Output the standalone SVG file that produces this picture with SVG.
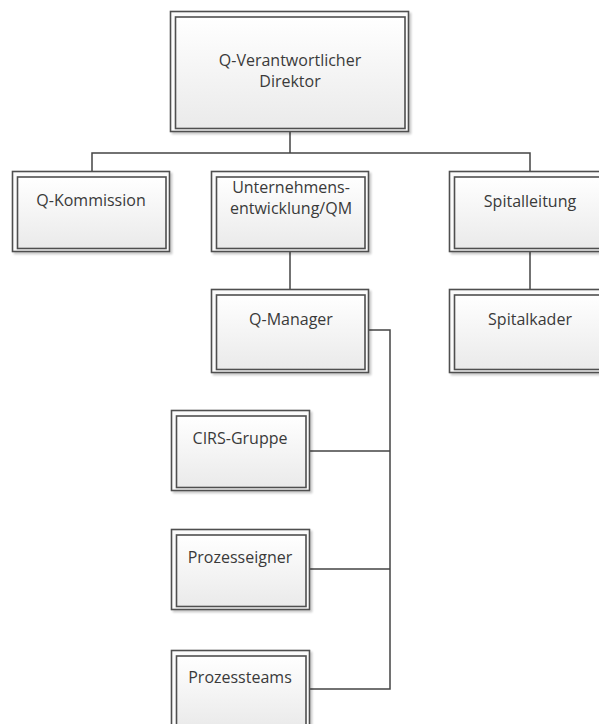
<svg xmlns="http://www.w3.org/2000/svg" width="599" height="724" viewBox="0 0 599 724">
<defs>
<linearGradient id="g" x1="0" y1="0" x2="0" y2="1">
<stop offset="0" stop-color="#ffffff"/>
<stop offset="1" stop-color="#eaeaea"/>
</linearGradient>
<filter id="sh" x="-10%" y="-10%" width="120%" height="120%">
<feGaussianBlur in="SourceAlpha" stdDeviation="1.2"/>
<feOffset dx="1.5" dy="1.5"/>
<feComponentTransfer><feFuncA type="linear" slope="0.22"/></feComponentTransfer>
<feMerge><feMergeNode/><feMergeNode in="SourceGraphic"/></feMerge>
</filter>
</defs>
<style>
.o{fill:#fbfbfb;stroke:#4f4f4f;stroke-width:1.6;filter:url(#sh)}
.i{fill:url(#g);stroke:#4f4f4f;stroke-width:1.6}
.t{font-family:"Open Sans","Noto Sans",sans-serif;font-size:16px;fill:#3a3a3a;text-anchor:middle}
.c{fill:none;stroke:#444;stroke-width:1.5}
</style>
<rect width="599" height="724" fill="#ffffff"/>
<g id="connectors">
<path class="c" d="M290,132V153M92,171V153H530V171"/>
<path class="c" d="M290,252V289"/>
<path class="c" d="M530,252V289"/>
<path class="c" d="M369,330H390V689H310M310,451H390M310,569H390"/>
</g>
<g id="n-direktor">
<rect class="o" x="170.5" y="11.5" width="238" height="120"/>
<rect class="i" x="175.5" y="17" width="229.5" height="111.5"/>
<text class="t" x="290" y="66">Q-Verantwortlicher</text>
<text class="t" x="290" y="87">Direktor</text>
</g>
<g id="n-kommission">
<rect class="o" x="12.5" y="171.5" width="157" height="80"/>
<rect class="i" x="17.5" y="177" width="148.5" height="71.5"/>
<text class="t" x="91" y="206">Q-Kommission</text>
</g>
<g id="n-unternehmen">
<rect class="o" x="211.5" y="171.5" width="157" height="80"/>
<rect class="i" x="216.5" y="177" width="148.5" height="71.5"/>
<text class="t" x="291" y="193">Unternehmens-</text>
<text class="t" x="291" y="214">entwicklung/QM</text>
</g>
<g id="n-spitalleitung">
<rect class="o" x="449.5" y="171.5" width="160" height="80"/>
<rect class="i" x="454.5" y="177" width="151.5" height="71.5"/>
<text class="t" x="530" y="207">Spitalleitung</text>
</g>
<g id="n-qmanager">
<rect class="o" x="211.5" y="289.5" width="157" height="83"/>
<rect class="i" x="216.5" y="295" width="148.5" height="74.5"/>
<text class="t" x="291" y="325">Q-Manager</text>
</g>
<g id="n-spitalkader">
<rect class="o" x="449.5" y="289.5" width="160" height="83"/>
<rect class="i" x="454.5" y="295" width="151.5" height="74.5"/>
<text class="t" x="530" y="325">Spitalkader</text>
</g>
<g id="n-cirs">
<rect class="o" x="171.5" y="410.5" width="138" height="80"/>
<rect class="i" x="176.5" y="416" width="129.5" height="71.5"/>
<text class="t" x="240" y="444">CIRS-Gruppe</text>
</g>
<g id="n-prozesseigner">
<rect class="o" x="171.5" y="529.5" width="138" height="80"/>
<rect class="i" x="176.5" y="535" width="129.5" height="71.5"/>
<text class="t" x="240" y="563">Prozesseigner</text>
</g>
<g id="n-prozessteams">
<rect class="o" x="171.5" y="650.5" width="138" height="80"/>
<rect class="i" x="176.5" y="656" width="129.5" height="71.5"/>
<text class="t" x="240" y="683">Prozessteams</text>
</g>
</svg>
